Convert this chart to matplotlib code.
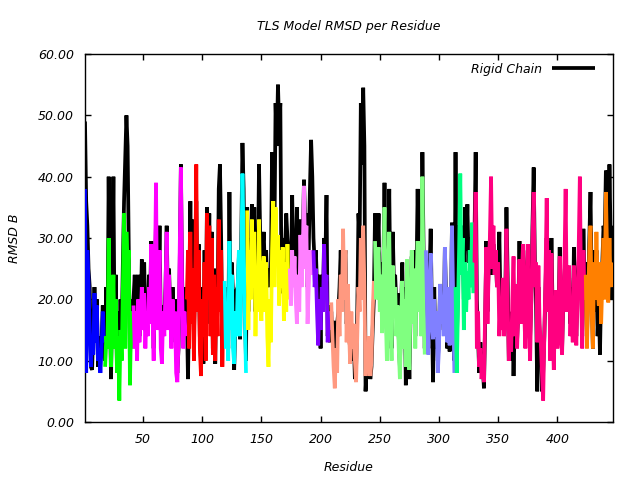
import matplotlib
matplotlib.use("Agg")
import matplotlib.pyplot as plt
import numpy as np

plt.rcParams['font.family'] = ['DejaVu Sans']
plt.rcParams['font.style'] = 'italic'

# TLS group colours, in residue order
group_colors = ['#0000ff', '#00ff00', '#ff00ff', '#ff0000', '#00ffff', '#ffff00', '#ff80ff',
                '#8000ff', '#ff9980', '#80ff80', '#8080ff', '#00ff80', '#ff0080', '#ff8000']

# per residue RMSD B for each TLS group (residues 1..447, consecutive)
tls_blue = [38, 8, 28, 23, 15, 9, 14, 11, 21, 13, 19, 10, 12, 8, 12, 18, 13]
tls_green = [9, 14, 12, 30, 18, 9, 16, 24, 12, 20, 8, 14, 3.5, 15, 10, 22, 34, 12, 31, 25,
             28, 6, 18, 12]
tls_magenta = [19, 12, 18, 10, 20, 13, 17, 22, 15, 21, 12, 18, 14, 22, 16, 29, 18, 10, 24, 39,
               15, 20, 28, 12, 9.5, 18, 14, 22, 31, 15, 24, 18, 12, 20, 14, 18, 8, 6.5, 13, 28,
               41.5, 22, 12, 18, 14]
tls_red = [20, 28, 12, 31, 16, 25, 10, 22, 42, 18, 28, 12, 7.5, 20, 14, 26, 10, 34, 20, 32,
           14, 30, 11, 24, 10, 22, 14, 33, 18, 28, 9, 20]
tls_cyan = [23, 12, 18, 10, 29.5, 15, 24, 12, 9.5, 18, 14, 22, 28, 14, 26, 40.5, 30, 18, 8]
tls_yellow = [34.5, 15, 28, 20, 33, 22, 31, 14, 24, 18, 33, 20, 16.5, 24, 27, 18, 26, 14, 9, 20,
              13, 28, 36, 22, 35, 26, 30.5, 19, 28, 22, 28.5, 16.5, 26, 18, 29, 20]
tls_violet = [25, 19, 28, 22, 27, 20, 16, 24, 18, 30.5, 22, 28, 38.5, 25, 32, 16, 22, 28, 24, 27]
tls_purple = [28, 22, 25, 18, 12.5, 20, 15, 22, 18, 29, 20, 24, 13, 18, 15]
tls_salmon = [19.5, 14, 9, 5.5, 12, 8, 20, 14, 24, 18, 31.5, 20, 28, 13, 22.5, 15, 9.5, 18, 12, 16,
              10, 6.5, 14, 22, 18, 30, 20, 32, 22, 7.5, 12, 8, 14, 7.5, 10, 18, 23]
tls_lightgreen = [29.5, 20, 26, 28.5, 18, 24, 14.5, 22, 35, 18, 10, 24, 31, 16, 10, 25.5, 18, 22,
                  14, 19, 12, 7, 16, 23, 12, 20, 9, 26.5, 14, 8.5, 20, 28, 16, 25, 12, 22, 29.5,
                  18, 24, 14, 40, 22, 11]
tls_slate = [28, 18, 11, 22, 27.5, 16, 13.5, 20, 14, 18, 8, 12, 22.5, 16, 20, 14, 28.5, 18, 13, 22,
             12.5, 18, 32, 20, 8]
tls_spring = [22, 8, 18, 28, 40.5, 24, 30, 15, 26, 18, 24.5, 20, 28, 22, 32.5, 21]
tls_pink = [26, 37.5, 12, 18, 9, 12, 7, 10, 6.5, 18,
            28.5, 16, 25, 30, 40, 25, 32, 24, 28, 22,
            26, 14, 20, 15, 23.5, 14, 18, 31.5, 20, 10,
            16, 11.5, 20, 27, 14, 22.5, 12, 18, 26.5, 16,
            24, 29, 18, 12, 22, 29, 16, 10, 20, 30,
            37.5, 22, 26, 13, 25.5, 16, 13, 8, 3.5, 14,
            24, 36.5, 18, 28, 10, 27.5, 15, 8.5, 18, 21.5,
            12, 16, 27, 14, 11, 20, 26, 38, 18, 22,
            25.5, 14, 20, 13, 25.5, 18, 12.5, 20, 28, 40,
            22, 12, 28, 20]
tls_orange = [24, 12, 20, 28, 32, 18, 12, 26, 20, 31, 22, 19, 26, 16, 23, 30, 20, 37.5, 28, 19.5,
              30, 22, 25, 26]

# rigid chain RMSD B, residues 1..447
rigid_chain = [
    49, 36, 32, 25, 22, 9, 8.5, 15, 22, 16, 20, 9, 14, 11, 13, 19, 14,
    10, 22, 14, 40, 20, 7, 22, 40, 14, 24, 9, 18, 10, 20, 14, 26, 36, 43, 50, 45, 28, 10, 20, 14,
    20, 24, 18, 12, 24, 14, 17, 26.5, 22, 26, 15, 21, 16, 24, 20, 29.5, 22, 12, 23, 33,
    20, 22, 32, 16, 14, 19, 17, 22, 32, 20, 25, 18, 13, 22, 15, 20, 12, 8, 12, 25, 42, 24, 14, 22, 18,
    18, 7, 20, 36, 18, 33, 14, 24, 36, 20, 29, 14, 10, 22, 9.5, 28, 14, 35, 22, 34,
    16, 31, 12, 25, 9.5, 24, 18, 38, 42, 30, 12, 20,
    22, 14, 20, 12, 37.5, 18, 26, 21, 8.5, 16, 21.5, 22, 27, 13.5, 30, 45.5, 38, 20, 10,
    35, 18, 30, 22, 35.5, 26, 35, 18, 28, 24, 42, 30, 22, 28, 31, 24, 28, 22, 25, 22,
    24, 44, 38, 30, 52, 45, 55, 48, 52, 21, 30, 26, 28, 34, 30, 27,
    27, 24, 37, 26, 30, 24, 35, 26, 22, 33, 28, 30, 39.5, 32, 34, 22, 28, 38, 46, 40,
    30, 26, 28, 22, 24, 22, 12, 24, 20, 30, 26, 37, 14, 19, 13,
    18, 13.5, 16.5, 10, 14, 16, 18, 22, 28, 20, 26, 25, 28, 16, 20, 14, 12, 15, 10, 14,
    7, 9, 18, 34, 30, 52, 42, 54.5, 45, 5, 9, 8, 12, 7, 9, 15, 20,
    34, 22, 28, 34, 20, 26, 18, 24, 39, 22, 14, 26, 38, 20, 12, 31, 22, 24, 19, 21,
    14, 9, 18, 26, 14, 22, 6, 24, 16, 7, 18, 27, 18, 28, 14, 24, 38, 24, 26, 18, 44, 28, 12,
    26, 16, 12, 24, 31.5, 18, 6.5, 22, 12, 16, 10, 14, 22.5, 16, 19, 15, 28.5, 20, 12, 20,
    11.5, 16, 32.5, 22, 10,
    44, 12, 22, 32, 30, 26, 32, 20, 35, 28, 35.5, 26, 30, 24, 30, 28,
    30, 44, 20, 14, 8, 13, 8, 9, 5.5, 16, 29.5, 18, 26, 28, 32, 24, 29, 25, 27.5, 22,
    24, 31, 18, 16, 22, 16, 20, 35, 24, 10, 14, 10, 18, 7.5, 16, 14, 13.5, 18, 29.5, 18,
    24, 28, 20, 14, 22, 28, 18, 14, 20, 32, 41.5, 26, 20, 5, 22, 14, 12, 5, 8, 14,
    22, 30, 20, 29.5, 14, 30, 18, 10, 18, 21.5, 14, 16, 28.5, 16, 12, 20, 24, 27, 20, 22,
    23.5, 16, 22, 14, 28.5, 20, 14, 22, 26, 29, 24, 14, 31.5, 22,
    26, 14, 22, 30, 37.5, 22, 12, 28, 18, 28, 14, 20, 11, 22, 26, 32, 30, 41, 40, 22,
    42, 30, 20, 32,
]

tls_segments = [tls_blue, tls_green, tls_magenta, tls_red, tls_cyan, tls_yellow, tls_violet,
                tls_purple, tls_salmon, tls_lightgreen, tls_slate, tls_spring, tls_pink, tls_orange]

fig = plt.figure(figsize=(6.4, 4.8), dpi=100)
ax = fig.add_axes([0.1328, 0.1208, 0.8250, 0.7667])

line_kw = dict(lw=2.7, solid_capstyle='butt', solid_joinstyle='bevel')

residues = np.arange(1, len(rigid_chain) + 1)
ax.plot(residues, rigid_chain, color='black', label='Rigid Chain', zorder=2, **line_kw)

start = 1
for vals, col in zip(tls_segments, group_colors):
    x = np.arange(start, start + len(vals))
    ax.plot(x, vals, color=col, zorder=3, **line_kw)
    start += len(vals)

ax.set_xlim(1, 447)
ax.set_ylim(0, 60)
ax.set_xticks(np.arange(50, 401, 50))
ax.set_yticks(np.arange(0, 61, 10))
ax.set_yticklabels([f'{v:.2f}' for v in np.arange(0, 61, 10)])
ax.tick_params(direction='in', top=True, right=True, length=4, width=1, labelsize=9, pad=8)
for s in ax.spines.values():
    s.set_linewidth(1.0)

ax.set_title('TLS Model RMSD per Residue', fontsize=9, pad=17)
ax.set_xlabel('Residue', fontsize=9, labelpad=11)
ax.set_ylabel('RMSD B', fontsize=9, labelpad=12)

ax.legend(loc='upper right', frameon=False, markerfirst=False, fontsize=9,
          handlelength=3.4, borderaxespad=0.3, bbox_to_anchor=(0.982, 1.0))

fig.savefig('out.png', dpi=100)
